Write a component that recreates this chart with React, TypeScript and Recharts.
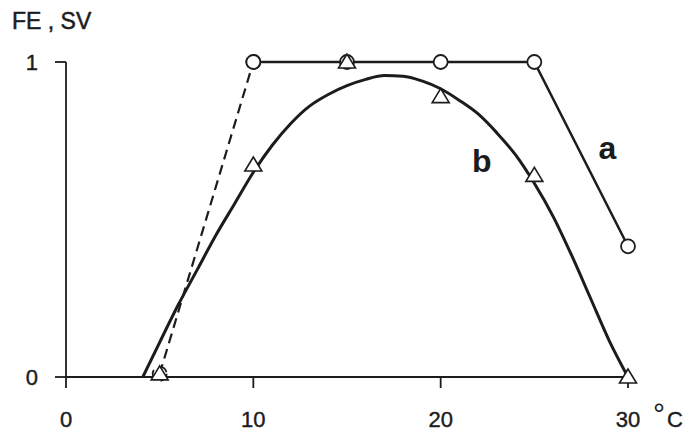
import { LineChart, Line, XAxis, YAxis, ReferenceDot } from 'recharts';

// temperature (°C) -> value
const tempPoints = [5, 10, 15, 20, 25, 30];
const seriesA = [0.01, 1, 1, 1, 1, 0.415];
const seriesB = [0.01, 0.673, 1, 0.89, 0.64, 0];

// fitted curve b, sampled along the drawn line
const curveBx = [4.1, 5, 6, 7, 8, 9, 10, 11, 12, 13, 14, 15, 16, 17, 18, 19, 20, 21, 22, 23, 24, 25, 26, 27, 28, 29, 30];
const curveBy = [0, 0.11, 0.23, 0.34, 0.45, 0.55, 0.65, 0.735, 0.805, 0.86, 0.897, 0.925, 0.945, 0.957, 0.955, 0.94, 0.915, 0.878, 0.835, 0.775, 0.705, 0.615, 0.51, 0.385, 0.25, 0.115, 0];

const xTicks = [0, 10, 20, 30];
const yTicks = [0, 1];

const INK = '#1c1c1c';
const FONT = '"Liberation Sans", Arial, Helvetica, sans-serif';

const dashedA = tempPoints.slice(0, 2).map((x, i) => ({ x, y: seriesA[i] }));
const solidA = tempPoints.slice(1).map((x, i) => ({ x, y: seriesA[i + 1] }));
const pointsB = tempPoints.map((x, i) => ({ x, y: seriesB[i] }));
const curveB = curveBx.map((x, i) => ({ x, y: curveBy[i] }));

const triangle = (p: any) => {
  const { cx, cy, index } = p;
  const pts = `${cx},${cy - 8} ${cx - 8.5},${cy + 6} ${cx + 8.5},${cy + 6}`;
  return <polygon key={`tri-${index}`} points={pts} fill="#fff" stroke={INK} strokeWidth={1.6} />;
};

const circleDot = { r: 7, fill: '#fff', stroke: INK, strokeWidth: 1.8 };

const XTick = (props: any) => {
  const { x, y, payload } = props;
  return (
    <g>
      <text x={x} y={y} dy="0.71em" textAnchor="middle" fontSize={22} fill={INK} stroke={INK} strokeWidth={0.4} fontFamily={FONT}>
        {payload.value}
      </text>
      {payload.value === 30 && (
        <>
          <text x={x + 25} y={y + 13} fontSize={30} fill={INK} fontFamily={FONT}>°</text>
          <text x={x + 39} y={y} dy="0.71em" fontSize={22} fill={INK} stroke={INK} strokeWidth={0.4} fontFamily={FONT}>C</text>
        </>
      )}
    </g>
  );
};

const letter = (ch: string) => (p: any) => (
  <text x={p.cx} y={p.cy} textAnchor="middle" dominantBaseline="central" fontSize={32} fontWeight="bold" fill={INK} fontFamily={FONT}>
    {ch}
  </text>
);

export default function App() {
  return (
    <div style={{ position: 'absolute', left: 0, top: 0, width: 691, height: 434, background: '#fff', fontFamily: FONT }}>
      <div style={{ position: 'absolute', left: 12, top: 8, fontSize: 23, color: INK, WebkitTextStroke: '0.5px #1c1c1c', whiteSpace: 'pre' }}>FE , SV</div>
      <LineChart width={691} height={434} margin={{ top: 62, right: 63, bottom: 0, left: 0 }}>
        <XAxis
          type="number"
          dataKey="x"
          domain={[0, 30]}
          ticks={xTicks}
          tickSize={11}
          tickMargin={23}
          height={57}
          stroke={INK}
          strokeWidth={1.8}
          tick={<XTick />}
        />
        <YAxis
          type="number"
          dataKey="y"
          domain={[0, 1]}
          ticks={yTicks}
          tickSize={11}
          tickMargin={17}
          width={66}
          stroke={INK}
          strokeWidth={1.8}
          tick={{ fontSize: 22, fill: INK, stroke: INK, strokeWidth: 0.4, fontFamily: FONT }}
        />
        <Line
          data={curveB}
          dataKey="y"
          type="monotone"
          stroke={INK}
          strokeWidth={3}
          dot={false}
          activeDot={false}
          isAnimationActive={false}
        />
        <Line
          data={dashedA}
          dataKey="y"
          type="linear"
          stroke={INK}
          strokeWidth={2.2}
          strokeDasharray="10 6"
          dot={circleDot}
          activeDot={false}
          isAnimationActive={false}
        />
        <Line
          data={solidA}
          dataKey="y"
          type="linear"
          stroke={INK}
          strokeWidth={2.5}
          dot={circleDot}
          activeDot={false}
          isAnimationActive={false}
        />
        <Line
          data={pointsB}
          dataKey="y"
          stroke="none"
          dot={triangle}
          activeDot={false}
          isAnimationActive={false}
        />
        <ReferenceDot x={28.9} y={0.727} r={0} shape={letter('a')} />
        <ReferenceDot x={22.2} y={0.686} r={0} shape={letter('b')} />
      </LineChart>
    </div>
  );
}
